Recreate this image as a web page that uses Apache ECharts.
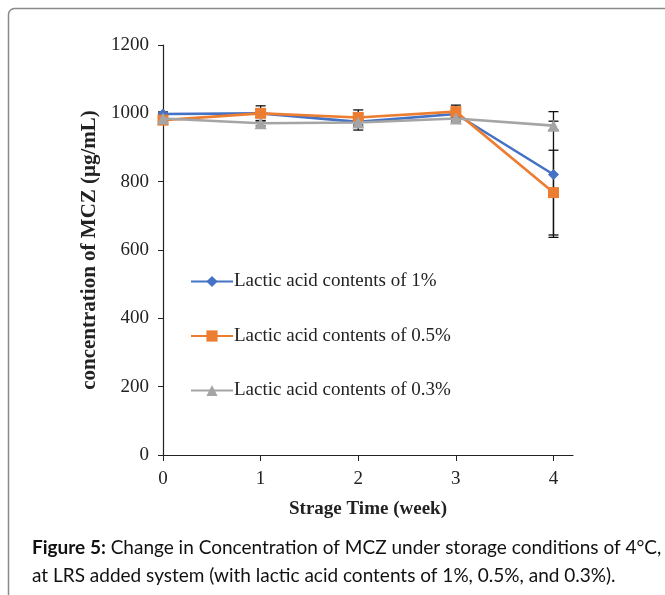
<!DOCTYPE html>
<html><head><meta charset="utf-8">
<script src="https://cdn.jsdelivr.net/npm/echarts@6/dist/echarts.min.js"></script>
<style>html,body{margin:0;padding:0;background:#fff}#c{width:665px;height:595px}</style>
</head><body><div id="c"></div>
<script>
const weeks = [0, 1, 2, 3, 4];
const seriesNames = ['Lactic acid contents of 1%', 'Lactic acid contents of 0.5%', 'Lactic acid contents of 0.3%'];
const conc1 = [998, 1000, 975, 998, 821];
const conc05 = [980, 1000, 988, 1005, 768];
const conc03 = [985, 971, 973, 985, 964];
const err1 = [6, 10, 24, 12, 184];
const err05 = [8, 22, 22, 19, 124];
const err03 = [6, 8, 10, 8, 13];
const colors = ['#4472C4', '#ED7D31', '#A5A5A5'];
const symbols = ['diamond', 'rect', 'triangle'];
const symbolSizes = [11, 11, 12];

const values = [conc1, conc05, conc03];
const errs = [err1, err05, err03];
const serif = 'Liberation Serif';

function renderErr(params, api) {
  const x = api.value(0), y = api.value(1), e = api.value(2);
  const top = api.coord([x, y + e]), bot = api.coord([x, y - e]);
  const hw = 5;
  const st = { stroke: '#111', lineWidth: 1.3 };
  return { type: 'group', children: [
    { type: 'line', shape: { x1: top[0], y1: top[1], x2: bot[0], y2: bot[1] }, style: st },
    { type: 'line', shape: { x1: top[0] - hw, y1: top[1], x2: top[0] + hw, y2: top[1] }, style: st },
    { type: 'line', shape: { x1: bot[0] - hw, y1: bot[1], x2: bot[0] + hw, y2: bot[1] }, style: st }
  ]};
}

const series = [];
values.forEach((v, i) => {
  series.push({
    name: 'err' + i, type: 'custom', renderItem: renderErr, z: 1,
    encode: { x: 0, y: 1 }, silent: true,
    data: weeks.map((w, k) => [w, v[k], errs[i][k]])
  });
});
values.forEach((v, i) => {
  series.push({
    name: seriesNames[i], type: 'line', z: 3 + i,
    data: weeks.map((w, k) => [w, v[k]]),
    symbol: symbols[i], symbolSize: symbolSizes[i], showAllSymbol: true,
    itemStyle: { color: colors[i] },
    lineStyle: { color: colors[i], width: 2.6 }
  });
});

const chart = echarts.init(document.getElementById('c'));
chart.setOption({
  animation: false,
  backgroundColor: '#fff',
  grid: { left: 163, top: 45, right: 92, bottom: 140, containLabel: false },
  legend: {
    data: seriesNames, orient: 'vertical', left: 190, top: 272, itemGap: 35.5, padding: 0,
    itemWidth: 42, itemHeight: 14,
    textStyle: { fontFamily: serif, fontSize: 19, color: '#222', padding: [0, 0, 0, -4] }
  },
  xAxis: {
    type: 'value', min: 0, max: 4.2, interval: 1,
    name: 'Strage Time (week)', nameLocation: 'middle', nameGap: 45,
    nameTextStyle: { fontFamily: serif, fontSize: 19, fontWeight: 'bold', color: '#222' },
    axisLine: { show: true, lineStyle: { color: '#222', width: 1.2 } },
    axisTick: { show: true, inside: false, length: 6, lineStyle: { color: '#222' } },
    axisLabel: { fontFamily: serif, fontSize: 19, color: '#222', margin: 15, showMaxLabel: false },
    splitLine: { show: false }
  },
  yAxis: {
    type: 'value', min: 0, max: 1200, interval: 200,
    name: 'concentration of MCZ (μg/mL)', nameLocation: 'middle', nameGap: 61,
    nameTextStyle: { fontFamily: serif, fontSize: 21, fontWeight: 'bold', color: '#222' },
    axisLine: { show: true, lineStyle: { color: '#222', width: 1.2 } },
    axisTick: { show: true, inside: false, length: 5, lineStyle: { color: '#222' } },
    axisLabel: { fontFamily: serif, fontSize: 19, color: '#222', margin: 14, formatter: v => String(v) },
    splitLine: { show: false }
  },
  series: series,
  graphic: [
    { type: 'rect', shape: { x: 8.5, y: 8.5, width: 720, height: 700, r: 6 },
      style: { fill: 'none', stroke: '#8a8a8a', lineWidth: 1.5 }, silent: true },
    { type: 'text', left: 32, top: 534,
      style: {
        text: '{b|Figure 5:} Change in Concentration of MCZ under storage conditions of 4°C,\nat LRS added system (with lactic acid contents of 1%, 0.5%, and 0.3%).',
        font: '19px Lato', fill: '#111', lineHeight: 28,
        rich: { b: { fontWeight: 'bold', fontFamily: 'Lato', fontSize: 19, fill: '#111' } }
      } }
  ]
});
</script></body></html>
